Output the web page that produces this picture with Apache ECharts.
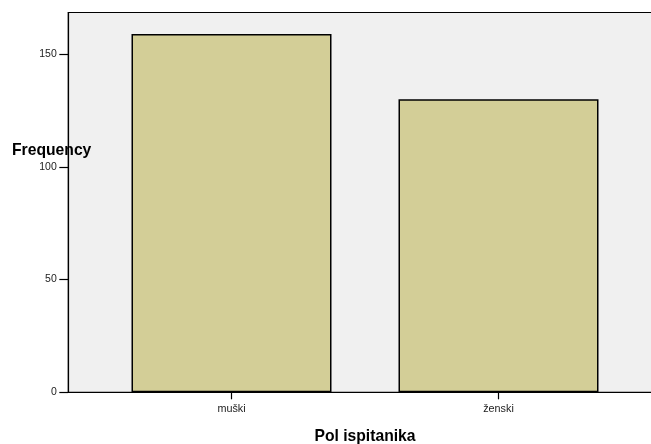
<!DOCTYPE html>
<html>
<head>
<meta charset="utf-8">
<script src="https://cdn.jsdelivr.net/npm/echarts@6/dist/echarts.min.js"></script>
<style>html,body{margin:0;padding:0;background:#fff}#c{width:651px;height:444px}</style>
</head>
<body>
<div id="c"></div>
<script>
const categories = ['muški', 'ženski'];
const frequencies = [159, 130];
const yTicks = [0, 50, 100, 150];
const xAxisTitle = 'Pol ispitanika';
const yAxisTitle = 'Frequency';

const chart = echarts.init(document.getElementById('c'), null, {renderer: 'canvas'});
const FONT = '"Liberation Sans", Arial, sans-serif';
const TOP = 12.5, BOTTOM = 51.7, YMAX = 168.5;
chart.setOption({
  animation: false,
  backgroundColor: '#ffffff',
  grid: [
    {left: 68.3, right: -5, top: TOP, bottom: BOTTOM, show: true, backgroundColor: '#f0f0f0', borderColor: '#000', borderWidth: 1.2, containLabel: false, outerBoundsMode: 'none'},
    {left: 98, right: 19, top: TOP, bottom: BOTTOM, containLabel: false, outerBoundsMode: 'none'}
  ],
  xAxis: [
    {gridIndex: 0, type: 'value', min: 0, max: 1, show: false},
    {gridIndex: 1, type: 'category', data: categories,
      axisLine: {show: false},
      axisTick: {show: true, alignWithLabel: true, length: 7, lineStyle: {color: '#000', width: 1.2}},
      axisLabel: {fontFamily: FONT, fontSize: 10.8, color: '#222', margin: 11.5},
      name: xAxisTitle, nameLocation: 'middle', nameGap: 36,
      nameTextStyle: {fontFamily: FONT, fontSize: 15.7, fontWeight: 'bold', color: '#000'}
    }
  ],
  yAxis: [
    {gridIndex: 0, type: 'value', min: 0, max: YMAX, interval: 50,
      splitLine: {show: false},
      axisLine: {show: true, lineStyle: {color: '#000', width: 1.2}},
      axisTick: {show: true, length: 9, customValues: yTicks, lineStyle: {color: '#000', width: 1.2}},
      axisLabel: {fontFamily: FONT, fontSize: 10.5, color: '#222', margin: 11.5, customValues: yTicks}
    },
    {gridIndex: 1, type: 'value', min: 0, max: YMAX, show: false}
  ],
  graphic: [
    {type: 'text', left: 12, top: 142.5, z: 100,
      style: {text: yAxisTitle, font: 'bold 15.7px ' + FONT, fill: '#000'}}
  ],
  series: [
    {type: 'bar', xAxisIndex: 1, yAxisIndex: 1, data: frequencies, barWidth: 200,
      itemStyle: {color: '#d3ce97', borderColor: '#000', borderWidth: 1.5}}
  ]
});
</script>
</body>
</html>
